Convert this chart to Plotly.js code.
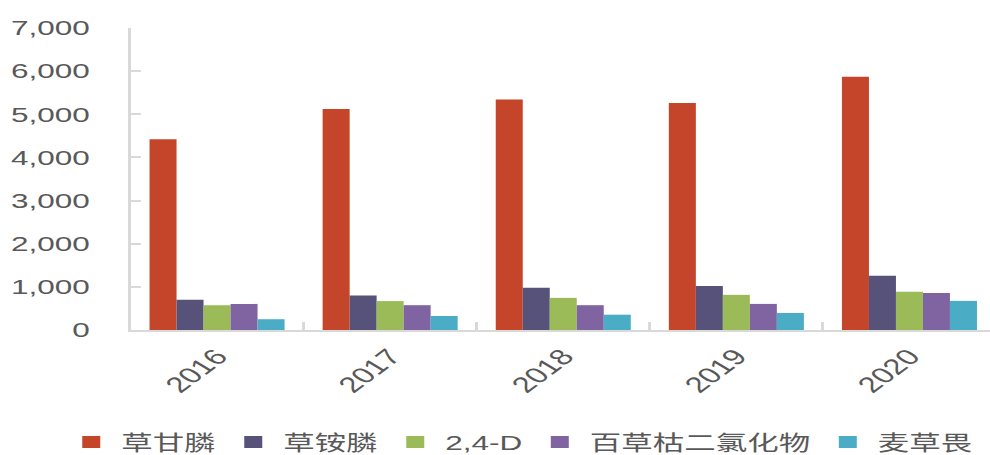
<!DOCTYPE html>
<html>
<head>
<meta charset="utf-8">
<script src="https://cdn.plot.ly/plotly-3.0.1.min.js"></script>
<style>
html,body{margin:0;padding:0;background:#fff;overflow:hidden;}
#wrap{width:990px;height:455px;overflow:hidden;}
#chart{width:664px;height:455px;transform:scaleX(1.5);transform-origin:0 0;}
</style>
</head>
<body>
<div id="wrap"><div id="chart"></div></div>
<script>
var years = ['2016', '2017', '2018', '2019', '2020'];
var seriesNames = ['草甘膦', '草铵膦', '2,4-D', '百草枯二氯化物', '麦草畏'];
var glyphosate = [4420, 5120, 5340, 5260, 5870];
var glufosinate = [700, 800, 980, 1020, 1260];
var d24 = [575, 670, 745, 815, 885];
var paraquat = [605, 575, 575, 605, 855];
var dicamba = [250, 325, 355, 395, 675];
var colors = ['#C5452A', '#57527A', '#9BBB59', '#8064A2', '#4BACC6'];

var values = [glyphosate, glufosinate, d24, paraquat, dicamba];
var font = 'Liberation Sans, Arial, Noto Sans CJK SC, sans-serif';

var traces = values.map(function (v, i) {
  return {
    type: 'bar',
    name: seriesNames[i],
    x: years,
    y: v,
    marker: {color: colors[i], line: {width: 0}},
    hoverinfo: 'x+y+name'
  };
});

var layout = {
  width: 664,
  height: 455,
  margin: {l: 87, r: 0, t: 28, b: 125, autoexpand: false},
  paper_bgcolor: '#ffffff',
  plot_bgcolor: '#ffffff',
  barmode: 'group',
  bargap: 0.22,
  bargroupgap: 0,
  font: {family: font, color: '#595959'},
  xaxis: {
    type: 'category',
    showline: true,
    linecolor: '#d9d9d9',
    linewidth: 2,
    ticks: 'inside',
    tickson: 'boundaries',
    ticklen: 8,
    tickwidth: 2,
    tickcolor: '#d9d9d9',
    tickangle: -48,
    ticklabelstandoff: 3,
    tickfont: {size: 22, color: '#595959', family: font},
    showgrid: false,
    zeroline: false
  },
  yaxis: {
    range: [0, 7000],
    dtick: 1000,
    tickformat: ',d',
    showline: true,
    linecolor: '#d9d9d9',
    linewidth: 2,
    ticks: 'inside',
    ticklen: 7,
    tickwidth: 2,
    tickcolor: '#d9d9d9',
    ticklabelstandoff: 21,
    tickfont: {size: 21, color: '#595959', family: font},
    showgrid: false,
    zeroline: false
  },
  showlegend: true,
  legend: {
    orientation: 'h',
    xref: 'paper',
    yref: 'paper',
    x: -0.08,
    y: -0.372,
    xanchor: 'left',
    yanchor: 'middle',
    font: {size: 21, color: '#595959', family: font},
    bgcolor: 'rgba(0,0,0,0)',
    traceorder: 'normal'
  }
};

Plotly.newPlot('chart', traces, layout, {displayModeBar: false, responsive: false});
</script>
</body>
</html>
